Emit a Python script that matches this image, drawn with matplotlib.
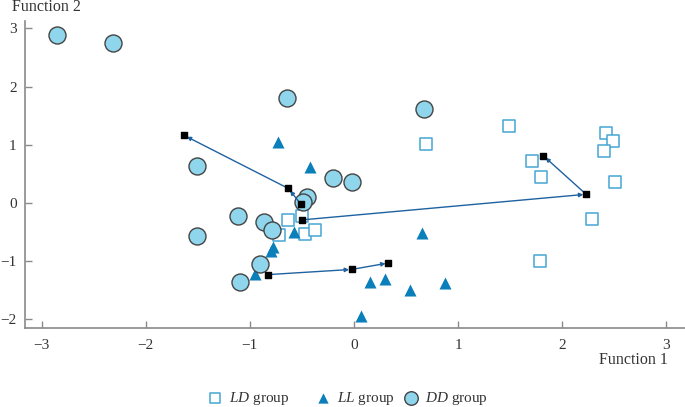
import matplotlib.pyplot as plt
import numpy as np

plt.rcParams["font.family"] = ["Liberation Serif", "DejaVu Serif"]
plt.rcParams["mathtext.fontset"] = "custom"
plt.rcParams["mathtext.rm"] = "Liberation Serif"
plt.rcParams["mathtext.it"] = "Liberation Serif:italic"

# group members (Function 1, Function 2)
ld_x = [0.69, -0.63, -0.50, -0.72, -0.47, -0.37, 1.49, 2.42, 2.49, 2.40, 1.71, 1.80, 2.51, 2.29, 1.79]
ld_y = [1.01, -0.30, -0.22, -0.55, -0.54, -0.47, 1.33, 1.21, 1.06, 0.89, 0.73, 0.44, 0.36, -0.28, -0.99]

ll_x = [-0.73, -0.42, -0.58, 0.65, -0.78, -0.80, -0.95, 0.15, 0.30, 0.54, 0.87, 0.07]
ll_y = [1.05, 0.62, -0.49, -0.52, -0.75, -0.83, -1.22, -1.35, -1.30, -1.49, -1.37, -1.94]

dd_x = [-2.85, -2.31, -0.64, 0.67, -1.51, -0.20, -0.02, -0.45, -0.49, -1.11, -0.86, -0.79, -1.51, -0.90, -1.09]
dd_y = [2.89, 2.74, 1.81, 1.61, 0.64, 0.43, 0.36, 0.10, 0.01, -0.22, -0.33, -0.46, -0.57, -1.04, -1.36]

# centroid paths (each list is one chain of arrows)
paths = [
    [(-0.51, -0.02), (-0.63, 0.25), (-1.63, 1.16)],
    [(-0.50, -0.29), (2.23, 0.15), (1.82, 0.81)],
    [(-0.83, -1.23), (-0.02, -1.14), (0.33, -1.03)],
]

xticks = [-3, -2, -1, 0, 1, 2, 3]
yticks = [-2, -1, 0, 1, 2, 3]

text_col = "#333333"
axis_col = "#8a8a8a"

fig = plt.figure(figsize=(6.85, 4.07), dpi=100)
ax = fig.add_axes([0.0365, 0.195, 0.9635, 0.754])

ax.scatter(ld_x, ld_y, marker="s", s=70, facecolors="white", edgecolors="#45a6d4", linewidths=1.1, zorder=3)
ax.scatter(ll_x, ll_y, marker="^", s=75, color="#0a7fb9", linewidths=0, zorder=3)
ax.scatter(dd_x, dd_y, marker="o", s=150, facecolors="#8fd6ec", edgecolors="#444444", linewidths=1.0, zorder=3)

for p in paths:
    for a, b in zip(p[:-1], p[1:]):
        ax.annotate("", xy=b, xytext=a,
                    arrowprops=dict(arrowstyle="-|>", color="#1f62a0", lw=1.0,
                                    mutation_scale=6, shrinkA=0, shrinkB=2),
                    zorder=4)
    px, py = zip(*p)
    ax.scatter(px, py, marker="s", s=16, color="black", zorder=5)

ax.set_xlim(-3.16, 3.18)
ax.set_ylim(-2.14, 3.13)
ax.set_xticks(xticks)
ax.set_yticks(yticks)
ax.set_xticklabels([str(t).replace("-", "\u2212") for t in xticks])
ax.set_yticklabels([str(t).replace("-", "\u2212") for t in yticks])

for s in ["top", "right"]:
    ax.spines[s].set_visible(False)
for s in ["left", "bottom"]:
    ax.spines[s].set_color(axis_col)
    ax.spines[s].set_linewidth(1.2)
ax.tick_params(direction="in", length=5, width=1, color=axis_col, labelcolor=text_col, labelsize=11)
ax.tick_params(axis="x", pad=8)
ax.tick_params(axis="y", pad=6)

fig.text(0.017, 0.982, "Function 2", fontsize=11.5, color=text_col, va="center", ha="left")
fig.text(0.975, 0.115, "Function 1", fontsize=11.5, color=text_col, va="center", ha="right")

# legend
lx = [0.314, 0.471, 0.600]
ax_leg = fig.add_axes([0, 0, 1, 0.044])
ax_leg.set_xlim(0, 1)
ax_leg.set_ylim(0, 1)
ax_leg.axis("off")
ax_leg.scatter([lx[0]], [0.5], marker="s", s=50, facecolors="white", edgecolors="#45a6d4", linewidths=1.1)
ax_leg.scatter([lx[1]], [0.5], marker="^", s=55, color="#0a7fb9", linewidths=0)
ax_leg.scatter([lx[2]], [0.5], marker="o", s=95, facecolors="#8fd6ec", edgecolors="#444444", linewidths=1.0)
ax_leg.text(lx[0] + 0.021, 0.5, "$\\mathit{LD}$ group", fontsize=11, color=text_col, va="center")
ax_leg.text(lx[1] + 0.021, 0.5, "$\\mathit{LL}$ group", fontsize=11, color=text_col, va="center")
ax_leg.text(lx[2] + 0.021, 0.5, "$\\mathit{DD}$ group", fontsize=11, color=text_col, va="center")

fig.savefig("out.png", dpi=100)
